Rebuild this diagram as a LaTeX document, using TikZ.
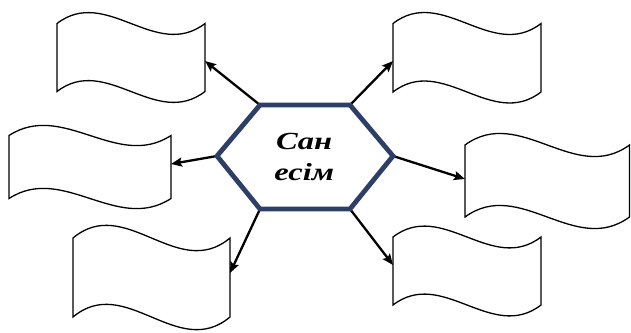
\documentclass[tikz,border=0pt]{standalone}
\usepackage{fontspec}
\newfontfamily\tnr{Liberation Serif}
\usetikzlibrary{arrows.meta}
\definecolor{hexblue}{RGB}{45,63,102}
\tikzset{
  boxline/.style={draw=black,line width=1.3pt,fill=white},
  hexline/.style={draw=hexblue,line width=4.8pt,line join=miter},
  conn/.style={draw=black,line width=2.3pt,-{Stealth[length=11pt,width=9pt,inset=2pt]}},
  hextext/.style={font=\tnr\bfseries\itshape\fontsize{24.6}{30}\selectfont,inner sep=0pt,anchor=base,xscale=1.32}
}
\newcommand{\wavebox}[5]{%
  \draw[boxline] (#2,#3) .. controls ({#2+#4/3},{#3-0.5556*#5}) and ({#2+2*#4/3},{#3+0.5556*#5}) .. ({#2+#4},#3)
    -- ({#2+#4},{#3+#5}) .. controls ({#2+2*#4/3},{#3+#5+0.5556*#5}) and ({#2+#4/3},{#3+#5-0.5556*#5}) .. (#2,{#3+#5}) -- cycle;
}
\begin{document}
\begin{tikzpicture}[x=1pt,y=-1pt]
\useasboundingbox (0,0) rectangle (631,332);
% boxes
\wavebox{b1}{57}{23.5}{148}{68}
\wavebox{b2}{393}{23.5}{148}{68.5}
\wavebox{b3}{9}{135.5}{162}{63}
\wavebox{b4}{73}{238}{157}{79}
\wavebox{b5}{465}{145}{164.5}{72}
\wavebox{b6}{393}{237}{148}{68}
% arrow targets on box edges
\coordinate (t1) at (205,61);
\coordinate (t2) at (393,61);
\coordinate (t3) at (171,164);
\coordinate (t4) at (230,273);
\coordinate (t5) at (465,179);
\coordinate (t6) at (393,265);
% hexagon vertices
\coordinate (h1) at (260,105);
\coordinate (h2) at (350,105);
\coordinate (h3) at (393,156);
\coordinate (h4) at (350,209);
\coordinate (h5) at (260,209);
\coordinate (h6) at (217,156);
% connectors
\draw[conn] (h1) -- (t1);
\draw[conn] (h2) -- (t2);
\draw[conn] (h6) -- (t3);
\draw[conn] (h5) -- (t4);
\draw[conn] (h3) -- (t5);
\draw[conn] (h4) -- (t6);
% hexagon
\draw[hexline,fill=white] (h1) -- (h2) -- (h3) -- (h4) -- (h5) -- (h6) -- cycle;
% text
\node[hextext] (l1) at (304.2,149.3) {Сан};
\node[hextext] (l2) at (304.2,180.7) {есім};
\end{tikzpicture}
\end{document}
